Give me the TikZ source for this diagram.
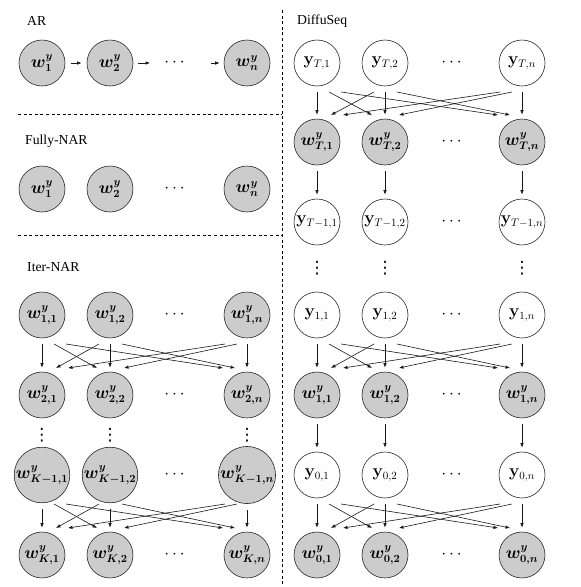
\documentclass[tikz,border=0pt]{standalone}
\usepackage{amsmath,bm}
\usepackage[no-math]{fontspec}
\newfontfamily\labelfont{Liberation Serif}
\newfontfamily\symfont{DejaVu Sans}
\usetikzlibrary{arrows.meta,calc}
\newcommand{\myvdots}{{\symfont ⋮}}
\tikzset{
  basenode/.style={circle, draw=black!85, line width=0.6pt, minimum size=46pt, inner sep=0pt, font=\fontsize{16}{16}\selectfont},
  wnode/.style={basenode, fill=gray!40},
  ynode/.style={basenode, fill=white},
  dotnode/.style={inner sep=0pt, font=\fontsize{18}{18}\selectfont},
  vdotnode/.style={inner sep=0pt, font=\fontsize{17}{17}\selectfont},
  arr/.style={-{Latex[length=4.5pt,width=3.5pt]}, line width=0.6pt, black!90},
  varr/.style={arr, shorten <=6pt, shorten >=4pt},
  sepline/.style={line width=0.7pt, dash pattern=on 3pt off 2.6pt},
  lab/.style={anchor=west, inner sep=0pt, font=\labelfont\fontsize{13.7}{14}\selectfont}
}
\newcommand{\crossset}[6]{%
  \draw[varr] (#1) -- (#4);
  \draw[varr] (#2) -- (#5);
  \draw[varr] (#3) -- (#6);
  \draw[arr] ($(#1)+(12,29)$) -- ($(#5)+(-13,-27)$);
  \draw[arr] ($(#2)+(-11,29)$) -- ($(#4)+(14,-27)$);
  \draw[arr] ($(#1)+(24,29)$) -- ($(#6)+(-24,-27)$);
  \draw[arr] ($(#2)+(12,29)$) -- ($(#6)+(-12,-27)$);
  \draw[arr] ($(#3)+(-22,29)$) -- ($(#4)+(26,-27)$);
  \draw[arr] ($(#3)+(-10,29)$) -- ($(#5)+(14,-27)$);
}
\begin{document}
\begin{tikzpicture}[x=1pt,y=-1pt]
\useasboundingbox (0,0) rectangle (581,587);

% separators
\draw[sepline] (18,114) -- (282,114);
\draw[sepline] (18,235) -- (282,235);
\draw[sepline] (282,10) -- (282,587);

% labels
\node[lab] (labAR) at (27,21) {AR};
\node[lab] (labFN) at (25,141) {Fully-NAR};
\node[lab] (labIN) at (27,267) {Iter-NAR};
\node[lab] (labDS) at (297,21) {DiffuSeq};

% AR
\node[wnode] (ar1) at (42,63) {$\bm{w^y_1}$};
\node[wnode] (ar2) at (110,63) {$\bm{w^y_2}$};
\node[dotnode] (ard) at (176,63) {$\cdots$};
\node[wnode] (arn) at (247,63) {$\bm{w^y_n}$};
\coordinate (arA) at (150,63);
\coordinate (arB) at (211,63);
\draw[arr, shorten <=6pt, shorten >=5pt] (ar1) -- (ar2);
\draw[arr, shorten <=5pt] (ar2) -- (arA);
\draw[arr, shorten >=4pt] (arB) -- (arn);

% Fully-NAR
\node[wnode] (f1) at (42,189) {$\bm{w^y_1}$};
\node[wnode] (f2) at (110,189) {$\bm{w^y_2}$};
\node[dotnode] (fd) at (176,189) {$\cdots$};
\node[wnode] (fn) at (247,189) {$\bm{w^y_n}$};

% Iter-NAR
\node[wnode] (ia1) at (42,315) {$\bm{w^y_{1,1}}$};
\node[wnode] (ia2) at (110,315) {$\bm{w^y_{1,2}}$};
\node[dotnode] (iad) at (176,315) {$\cdots$};
\node[wnode] (ian) at (247,315) {$\bm{w^y_{1,n}}$};

\node[wnode] (ib1) at (42,395) {$\bm{w^y_{2,1}}$};
\node[wnode] (ib2) at (110,395) {$\bm{w^y_{2,2}}$};
\node[dotnode] (ibd) at (176,395) {$\cdots$};
\node[wnode] (ibn) at (247,395) {$\bm{w^y_{2,n}}$};

\node[vdotnode] (iv1) at (42,435) {\myvdots};
\node[vdotnode] (iv2) at (110,435) {\myvdots};
\node[vdotnode] (ivn) at (247,435) {\myvdots};

\node[wnode] (ic1) at (42,475) {$\bm{w^y_{K-1,1}}$};
\node[wnode] (ic2) at (110,475) {$\bm{w^y_{K-1,2}}$};
\node[dotnode] (icd) at (176,475) {$\cdots$};
\node[wnode] (icn) at (247,475) {$\bm{w^y_{K-1,n}}$};

\node[wnode] (id1) at (42,555) {$\bm{w^y_{K,1}}$};
\node[wnode] (id2) at (110,555) {$\bm{w^y_{K,2}}$};
\node[dotnode] (idd) at (176,555) {$\cdots$};
\node[wnode] (idn) at (247,555) {$\bm{w^y_{K,n}}$};

\crossset{ia1}{ia2}{ian}{ib1}{ib2}{ibn}
\crossset{ic1}{ic2}{icn}{id1}{id2}{idn}

% DiffuSeq
\node[ynode] (yt1) at (317,63) {$\mathbf{y}_{T,1}$};
\node[ynode] (yt2) at (385,63) {$\mathbf{y}_{T,2}$};
\node[dotnode] (ytd) at (453,63) {$\cdots$};
\node[ynode] (ytn) at (522,63) {$\mathbf{y}_{T,n}$};

\node[wnode] (wt1) at (317,142) {$\bm{w^y_{T,1}}$};
\node[wnode] (wt2) at (385,142) {$\bm{w^y_{T,2}}$};
\node[dotnode] (wtd) at (453,142) {$\cdots$};
\node[wnode] (wtn) at (522,142) {$\bm{w^y_{T,n}}$};

\node[ynode] (ys1) at (317,222) {$\mathbf{y}_{T-1,1}$};
\node[ynode] (ys2) at (385,222) {$\mathbf{y}_{T-1,2}$};
\node[dotnode] (ysd) at (453,222) {$\cdots$};
\node[ynode] (ysn) at (522,222) {$\mathbf{y}_{T-1,n}$};

\node[vdotnode] (rv1) at (317,268) {\myvdots};
\node[vdotnode] (rv2) at (385,268) {\myvdots};
\node[vdotnode] (rvn) at (522,268) {\myvdots};

\node[ynode] (yo1) at (317,315) {$\mathbf{y}_{1,1}$};
\node[ynode] (yo2) at (385,315) {$\mathbf{y}_{1,2}$};
\node[dotnode] (yod) at (453,315) {$\cdots$};
\node[ynode] (yon) at (522,315) {$\mathbf{y}_{1,n}$};

\node[wnode] (wo1) at (317,395) {$\bm{w^y_{1,1}}$};
\node[wnode] (wo2) at (385,395) {$\bm{w^y_{1,2}}$};
\node[dotnode] (wod) at (453,395) {$\cdots$};
\node[wnode] (won) at (522,395) {$\bm{w^y_{1,n}}$};

\node[ynode] (yz1) at (317,475) {$\mathbf{y}_{0,1}$};
\node[ynode] (yz2) at (385,475) {$\mathbf{y}_{0,2}$};
\node[dotnode] (yzd) at (453,475) {$\cdots$};
\node[ynode] (yzn) at (522,475) {$\mathbf{y}_{0,n}$};

\node[wnode] (wz1) at (317,555) {$\bm{w^y_{0,1}}$};
\node[wnode] (wz2) at (385,555) {$\bm{w^y_{0,2}}$};
\node[dotnode] (wzd) at (453,555) {$\cdots$};
\node[wnode] (wzn) at (522,555) {$\bm{w^y_{0,n}}$};

\crossset{yt1}{yt2}{ytn}{wt1}{wt2}{wtn}
\draw[varr] (wt1) -- (ys1);
\draw[varr] (wt2) -- (ys2);
\draw[varr] (wtn) -- (ysn);
\crossset{yo1}{yo2}{yon}{wo1}{wo2}{won}
\draw[varr] (wo1) -- (yz1);
\draw[varr] (wo2) -- (yz2);
\draw[varr] (won) -- (yzn);
\crossset{yz1}{yz2}{yzn}{wz1}{wz2}{wzn}
\end{tikzpicture}
\end{document}
